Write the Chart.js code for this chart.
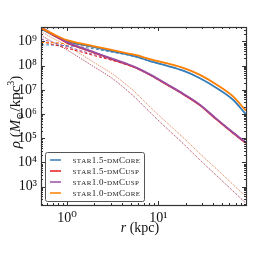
<!DOCTYPE html>
<html><head><meta charset="utf-8">
<script src="https://cdn.jsdelivr.net/npm/chart.js@4/dist/chart.umd.min.js"></script>
<style>html,body{margin:0;padding:0;background:#fff}#wrap{width:274px;height:274px}</style>
</head><body><div id="wrap"><canvas id="c" width="274" height="274"></canvas></div>
<script>
// radius (kpc)
const rKpc = [0.52, 0.71, 1.0, 1.41, 2.0, 3.16, 4.57, 5.75, 8.07, 12.6, 18.7, 28.2, 43.3, 65.2, 90.4];
// log10 density (Msun/kpc^3) — total (solid)
const logTotCore15 = [9.52, 9.26, 9.00, 8.88, 8.76, 8.59, 8.46, 8.37, 8.19, 7.99, 7.79, 7.49, 7.08, 6.60, 6.00];
const logTotCusp15 = [9.58, 9.26, 8.95, 8.73, 8.53, 8.26, 8.05, 7.90, 7.62, 7.20, 6.82, 6.38, 5.78, 5.23, 4.81];
const logTotCusp10 = [9.60, 9.28, 8.97, 8.75, 8.55, 8.28, 8.07, 7.92, 7.64, 7.22, 6.84, 6.40, 5.80, 5.25, 4.83];
const logTotCore10 = [9.55, 9.30, 9.05, 8.92, 8.80, 8.64, 8.51, 8.43, 8.27, 8.09, 7.91, 7.63, 7.22, 6.74, 6.15];
// dark matter (dashed)
const logDMCore15 = [8.86, 8.85, 8.82, 8.77, 8.69, 8.55, 8.44, 8.35, 8.18, 7.98, 7.78, 7.48, 7.07, 6.59, 5.99];
const logDMCusp15 = [9.00, 8.87, 8.72, 8.57, 8.41, 8.21, 8.03, 7.89, 7.61, 7.19, 6.81, 6.37, 5.77, 5.22, 4.80];
const logDMCusp10 = [9.10, 8.95, 8.79, 8.62, 8.45, 8.24, 8.05, 7.91, 7.63, 7.21, 6.83, 6.39, 5.79, 5.24, 4.82];
const logDMCore10 = [8.96, 8.95, 8.90, 8.84, 8.75, 8.60, 8.49, 8.42, 8.26, 8.08, 7.90, 7.62, 7.21, 6.73, 6.14];
// stars (dotted)
const logStar10 = [9.40, 9.12, 8.82, 8.48, 8.12, 7.65, 7.18, 6.85, 6.30, 5.62, 5.03, 4.38, 3.73, 3.10, 2.60];
const logStar15 = [9.25, 8.96, 8.65, 8.30, 7.94, 7.46, 6.97, 6.63, 6.08, 5.38, 4.78, 4.12, 3.46, 2.83, 2.32];

const seriesNames = ['star1.5-dmCore', 'star1.5-dmCusp', 'star1.0-dmCusp', 'star1.0-dmCore'];
const seriesColors = ['#377eb8', '#e41a1c', '#984ea3', '#ff7f00'];
const xMajor = [1, 10];
const yMajor = [1e3, 1e4, 1e5, 1e6, 1e7, 1e8, 1e9];

const pts = arr => arr.map((v, i) => ({x: rKpc[i], y: Math.pow(10, v)}));
const supMap = {'0':'⁰','1':'¹','2':'²','3':'³','4':'⁴','5':'⁵','6':'⁶','7':'⁷','8':'⁸','9':'⁹'};
const sup = n => String(n).split('').map(c => supMap[c]).join('');

function ds(arr, color, kind, order) {
  const d = {data: pts(arr), borderColor: color, pointRadius: 0, fill: false,
    cubicInterpolationMode: 'monotone', order: order};
  if (kind === 'solid') { d.borderWidth = 1.8; }
  if (kind === 'dash') { d.borderWidth = 1; d.borderDash = [3, 2]; }
  if (kind === 'dot') { d.borderWidth = 1; d.borderDash = [1, 1.2]; }
  return d;
}
const hexA = (h, a) => { const n = parseInt(h.slice(1), 16); return `rgba(${n>>16},${(n>>8)&255},${n&255},${a})`; };

const datasets = [
  ds(logStar15, hexA(seriesColors[0], 0.5), 'dot', 12),
  ds(logStar15, hexA(seriesColors[1], 0.7), 'dot', 11),
  ds(logStar10, hexA(seriesColors[2], 0.45), 'dot', 10),
  ds(logStar10, hexA(seriesColors[3], 0.65), 'dot', 9),
  ds(logDMCore15, seriesColors[0], 'dash', 8),
  ds(logDMCusp15, seriesColors[1], 'dash', 7),
  ds(logDMCusp10, seriesColors[2], 'dash', 6),
  ds(logDMCore10, seriesColors[3], 'dash', 5),
  ds(logTotCore15, seriesColors[0], 'solid', 4),
  ds(logTotCusp15, seriesColors[1], 'solid', 3),
  ds(logTotCusp10, seriesColors[2], 'solid', 2),
  ds(logTotCore10, seriesColors[3], 'solid', 1),
];

const SERIF = '"Liberation Serif", "DejaVu Serif", serif';

function drawPieces(ctx, pieces) {
  let w = 0;
  for (const p of pieces) { ctx.font = `${p[2]||''} ${p[1]}px ${SERIF}`; w += ctx.measureText(p[0]).width + (p[4]||0); }
  return w;
}
function renderPieces(ctx, pieces, x, y) {
  let cx = x;
  for (const p of pieces) {
    ctx.font = `${p[2]||''} ${p[1]}px ${SERIF}`;
    ctx.fillText(p[0], cx, y + (p[3]||0));
    cx += ctx.measureText(p[0]).width + (p[4]||0);
  }
}
function smallCaps(text, big, small) {
  const out = [];
  for (const ch of text) {
    if (/[a-z]/.test(ch)) out.push([ch.toUpperCase(), small, '', 0, 0.35]);
    else out.push([ch, big, '', 0, 0.25]);
  }
  return out;
}

const decor = {
  id: 'decor',
  afterDatasetsDraw(chart) {
    const ctx = chart.ctx, a = chart.chartArea, xs = chart.scales.x, ys = chart.scales.y;
    ctx.save();
    ctx.strokeStyle = '#333';
    ctx.lineWidth = 1;
    const xMinor = [];
    for (let e = -1; e <= 1; e++) for (let m = 2; m <= 9; m++) xMinor.push(m * Math.pow(10, e));
    const yMinor = [];
    for (let e = 2; e <= 9; e++) for (let m = 2; m <= 9; m++) yMinor.push(m * Math.pow(10, e));
    ctx.beginPath();
    const tickX = (v, L) => { if (v < xs.min || v > xs.max) return; const p = Math.round(xs.getPixelForValue(v)) + 0.5;
      ctx.moveTo(p, a.bottom); ctx.lineTo(p, a.bottom - L); ctx.moveTo(p, a.top); ctx.lineTo(p, a.top + L); };
    const tickY = (v, L) => { if (v < ys.min || v > ys.max) return; const p = Math.round(ys.getPixelForValue(v)) + 0.5;
      ctx.moveTo(a.left, p); ctx.lineTo(a.left + L, p); ctx.moveTo(a.right, p); ctx.lineTo(a.right - L, p); };
    xMajor.forEach(v => tickX(v, 4)); xMinor.forEach(v => tickX(v, 2));
    yMajor.forEach(v => tickY(v, 4)); yMinor.forEach(v => tickY(v, 2));
    ctx.stroke();
    ctx.lineWidth = 1.2;
    ctx.strokeRect(Math.round(a.left) + 0.5, Math.round(a.top) + 0.5, Math.round(a.right - a.left), Math.round(a.bottom - a.top));

    // legend
    const lx = 45.5, ly = 152.5, lw = 99, lh = 49;
    ctx.fillStyle = 'rgba(255,255,255,0.9)';
    ctx.strokeStyle = '#555';
    ctx.lineWidth = 1;
    ctx.beginPath();
    ctx.roundRect(lx, ly, lw, lh, 2);
    ctx.fill(); ctx.stroke();
    ctx.textBaseline = 'alphabetic';
    ctx.textAlign = 'left';
    seriesNames.forEach((n, i) => {
      const yy = 160 + i * 11;
      ctx.strokeStyle = hexA(seriesColors[i], 0.75);
      ctx.lineWidth = 2;
      ctx.beginPath(); ctx.moveTo(50, yy); ctx.lineTo(61, yy); ctx.stroke();
      ctx.fillStyle = '#222';
      renderPieces(ctx, smallCaps(n, 9, 7), 72.5, yy + 3);
    });

    // x label
    ctx.fillStyle = '#111';
    const xl = [['r', 14, 'italic'], [' (kpc)', 14, '']];
    const xw = drawPieces(ctx, xl);
    renderPieces(ctx, xl, 140 - xw / 2, 232);
    // y label
    ctx.save();
    ctx.translate(20, 112);
    ctx.rotate(-Math.PI / 2);
    const yl = [['ρ', 15, 'italic'], [' (', 15, ''], ['M', 15, 'italic'], ['⊙', 10, '', 3], ['/kpc', 15, ''], ['3', 10, '', -6], [')', 15, '']];
    const yw = drawPieces(ctx, yl);
    renderPieces(ctx, yl, -yw / 2, 0);
    ctx.restore();
    ctx.restore();
  }
};

new Chart(document.getElementById('c'), {
  type: 'line',
  data: {datasets},
  options: {
    responsive: false, animation: false, devicePixelRatio: 1,
    layout: {padding: {left: 0, top: 27, right: 28, bottom: 0}},
    plugins: {legend: {display: false}, tooltip: {enabled: false}},
    scales: {
      x: {type: 'logarithmic', min: 0.52, max: 91,
        grid: {display: false, drawTicks: false}, border: {display: false},
        afterFit: s => { s.height = 69; },
        afterBuildTicks: s => { s.ticks = xMajor.map(v => ({value: v})); },
        ticks: {autoSkip: false, maxRotation: 0, padding: 5, color: '#111',
          font: {family: SERIF, size: 14},
          callback: v => '10' + sup(Math.round(Math.log10(v)))}},
      y: {type: 'logarithmic', min: 175, max: 3.94e9,
        grid: {display: false, drawTicks: false}, border: {display: false},
        afterFit: s => { s.width = 41; },
        afterBuildTicks: s => { s.ticks = yMajor.map(v => ({value: v})); },
        ticks: {autoSkip: false, padding: 4, color: '#111',
          font: {family: SERIF, size: 14},
          callback: v => '10' + sup(Math.round(Math.log10(v)))}}
    }
  },
  plugins: [decor]
});
</script></body></html>
